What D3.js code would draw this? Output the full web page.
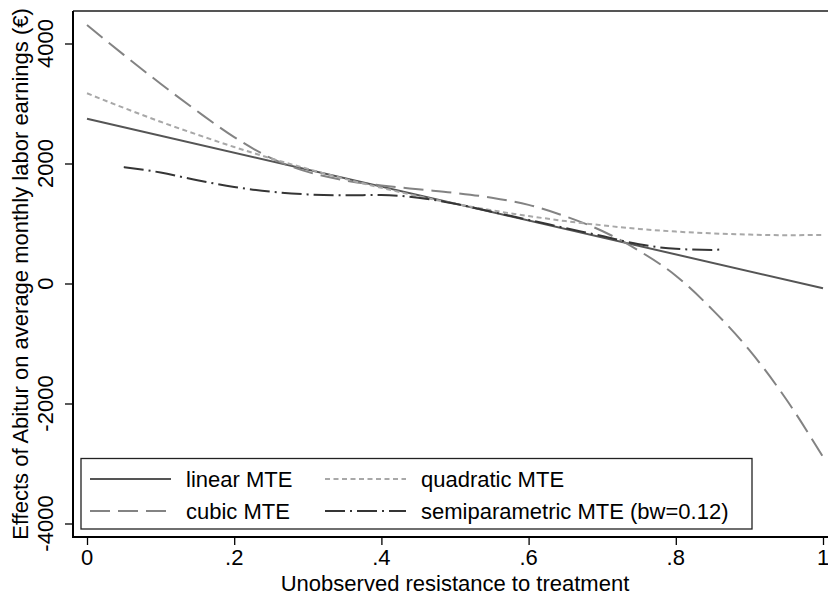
<!DOCTYPE html>
<html>
<head>
<meta charset="utf-8">
<script src="https://cdn.jsdelivr.net/npm/d3@7"></script>
<style>
  body { margin: 0; background: #fff; }
  text { font-family: "Liberation Sans", Arial, sans-serif; fill: #000; }
</style>
</head>
<body>
<script>
// values
const grid = [0, 0.05, 0.1, 0.15, 0.2, 0.25, 0.3, 0.35, 0.4, 0.45, 0.5,
  0.55, 0.6, 0.65, 0.7, 0.75, 0.8, 0.85, 0.9, 0.95, 1];
const linearX = [0, 1];
const linearMTE = [2745, -80];
const quadraticMTE = [3170, 2927, 2695, 2480, 2275, 2085, 1910, 1745, 1595, 1455, 1330,
  1220, 1125, 1040, 970, 910, 865, 835, 815, 805, 810];
const cubicMTE = [4308, 3810, 3330, 2870, 2440, 2090, 1860, 1720, 1635, 1570, 1510,
  1430, 1310, 1120, 875, 545, 130, -440, -1110, -1930, -2890];
const semiX = [0.05, 0.1, 0.15, 0.2, 0.25, 0.3, 0.35, 0.4, 0.45, 0.5, 0.55, 0.6,
  0.65, 0.7, 0.75, 0.8, 0.85, 0.865];
const semiMTE = [1940, 1850, 1720, 1610, 1530, 1485, 1470, 1475, 1430, 1330, 1195, 1060,
  925, 790, 655, 578, 560, 575];

const xTicks = [0, 0.2, 0.4, 0.6, 0.8, 1];
const xTickLabels = ["0", ".2", ".4", ".6", ".8", "1"];
const yTicks = [-4000, -2000, 0, 2000, 4000];

const series = [
  { name: "linear MTE", x: linearX, y: linearMTE, color: "#555555", dash: null },
  { name: "cubic MTE", x: grid, y: cubicMTE, color: "#838383", dash: "20,8" },
  { name: "quadratic MTE", x: grid, y: quadraticMTE, color: "#a8a8a8", dash: "5,3.5" },
  { name: "semiparametric MTE (bw=0.12)", x: semiX, y: semiMTE, color: "#353535", dash: "20,5,2,5" }
];
const legendOrder = ["linear MTE", "quadratic MTE", "cubic MTE", "semiparametric MTE (bw=0.12)"];

const svgWidth = 828;
const svgHeight = 597;
const plot = { left: 73, right: 829, top: 11, bottom: 537 };
const fontSize = "22px";

const svg = d3.select("body").append("svg")
  .attr("width", svgWidth)
  .attr("height", svgHeight);

const xScale = d3.scaleLinear().domain([0, 1]).range([87, 823]);
const yScale = d3.scaleLinear().domain([-4000, 4000]).range([523.5, 43.5]);

// frame
svg.append("line")
  .attr("x1", plot.left).attr("x2", plot.right)
  .attr("y1", plot.top).attr("y2", plot.top)
  .attr("stroke", "#555").attr("stroke-width", 2);

// curves
const line = d3.line()
  .x((d) => xScale(d[0]))
  .y((d) => yScale(d[1]))
  .curve(d3.curveMonotoneX);

series.forEach((s) => {
  svg.append("path")
    .datum(s.x.map((x, i) => [x, s.y[i]]))
    .attr("d", line)
    .attr("fill", "none")
    .attr("stroke", s.color)
    .attr("stroke-width", 2)
    .attr("stroke-dasharray", s.dash);
});

// y axis
const yAxis = svg.append("g")
  .attr("transform", `translate(${plot.left},0)`)
  .call(d3.axisLeft(yScale).tickValues(yTicks).tickSize(8).tickSizeOuter(0).tickFormat(""));
yAxis.select(".domain").attr("d", `M0,${plot.top}V${plot.bottom}`)
  .attr("stroke", "#000").attr("stroke-width", 2);
yAxis.selectAll(".tick line").attr("stroke", "#000").attr("stroke-width", 1.3);

svg.selectAll(".ylab")
  .data(yTicks)
  .enter()
  .append("text")
  .attr("class", "ylab")
  .attr("transform", (d) => `translate(53,${yScale(d)}) rotate(-90)`)
  .attr("text-anchor", "middle")
  .style("font-size", fontSize)
  .text((d) => d);

// x axis
const xAxis = svg.append("g")
  .attr("transform", `translate(0,${plot.bottom})`)
  .call(d3.axisBottom(xScale).tickValues(xTicks).tickSize(8).tickSizeOuter(0).tickFormat(""));
xAxis.select(".domain").attr("d", `M${plot.left - 1},0H${plot.right}`)
  .attr("stroke", "#000").attr("stroke-width", 2);
xAxis.selectAll(".tick line").attr("stroke", "#000").attr("stroke-width", 1.3);

svg.selectAll(".xlab")
  .data(xTicks)
  .enter()
  .append("text")
  .attr("class", "xlab")
  .attr("x", (d) => xScale(d))
  .attr("y", 564.5)
  .attr("text-anchor", "middle")
  .style("font-size", fontSize)
  .text((d, i) => xTickLabels[i]);

// axis titles
svg.append("text")
  .attr("x", xScale(0.5))
  .attr("y", 591)
  .attr("text-anchor", "middle")
  .style("font-size", fontSize)
  .text("Unobserved resistance to treatment");

svg.append("text")
  .attr("transform", `translate(28,${(plot.top + plot.bottom) / 2}) rotate(-90)`)
  .attr("text-anchor", "middle")
  .style("font-size", fontSize)
  .text("Effects of Abitur on average monthly labor earnings (€)");

// legend
const legend = svg.append("g");
legend.append("rect")
  .attr("x", 81).attr("y", 458.5)
  .attr("width", 671).attr("height", 70.5)
  .attr("fill", "#fff")
  .attr("stroke", "#222")
  .attr("stroke-width", 1.3);

const legendCol = d3.scaleOrdinal().domain([0, 1]).range([90, 325]);
const legendRow = d3.scaleOrdinal().domain([0, 1]).range([479, 511]);

legendOrder.forEach((name, i) => {
  const s = series.find((d) => d.name === name);
  const x0 = legendCol(i % 2);
  const y0 = legendRow(Math.floor(i / 2));
  legend.append("line")
    .attr("x1", x0).attr("x2", x0 + 81)
    .attr("y1", y0).attr("y2", y0)
    .attr("stroke", s.color)
    .attr("stroke-width", 2)
    .attr("stroke-dasharray", s.dash);
  legend.append("text")
    .attr("x", x0 + 96)
    .attr("y", y0 + 7.5)
    .style("font-size", fontSize)
    .text(name);
});
</script>
</body>
</html>
